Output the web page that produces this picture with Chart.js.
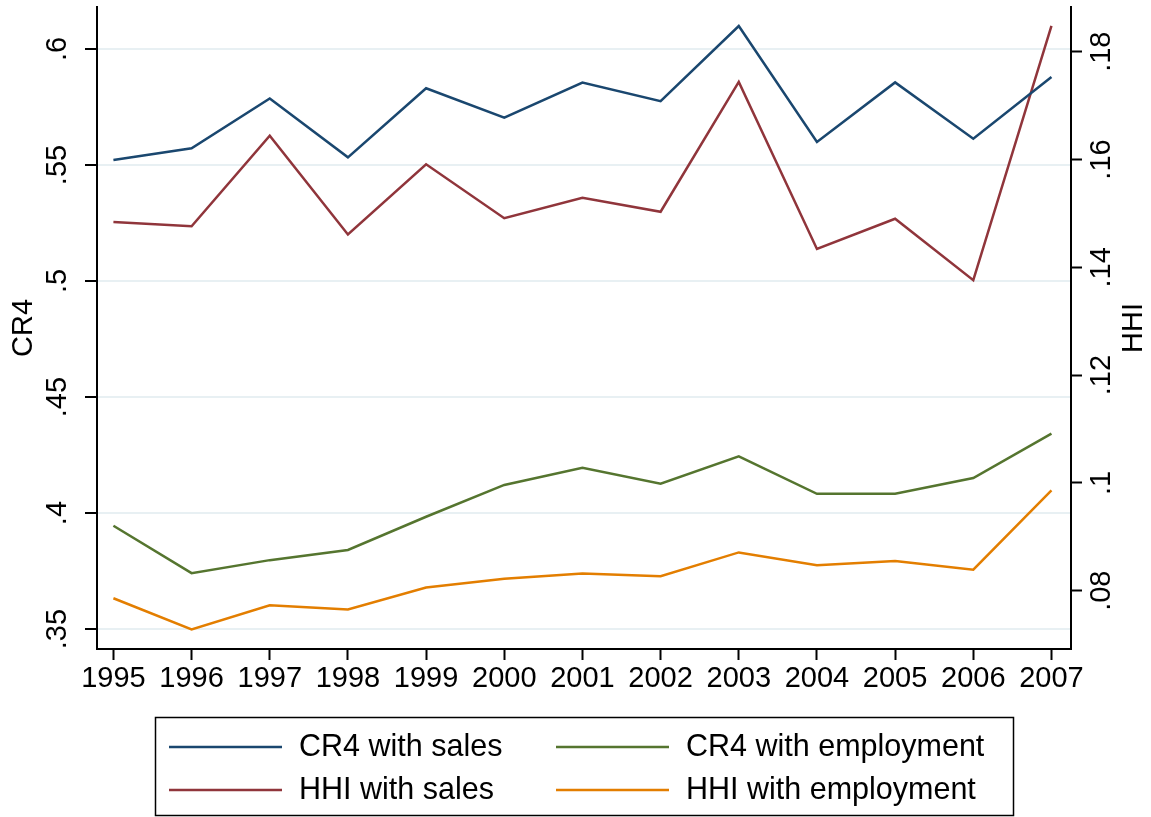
<!DOCTYPE html>
<html>
<head>
<meta charset="utf-8">
<script src="https://cdn.jsdelivr.net/npm/chart.js@4.4.0/dist/chart.umd.min.js"></script>
<style>
  html, body { margin: 0; padding: 0; background: #fff; }
  canvas { display: block; }
</style>
</head>
<body>
<canvas id="c" width="1151" height="817"></canvas>
<script>
// Market concentration by year: CR4 on the left axis, HHI on the right axis
const years = [1995, 1996, 1997, 1998, 1999, 2000, 2001, 2002, 2003, 2004, 2005, 2006, 2007];
const cr4Sales      = [0.5522, 0.5572, 0.5787, 0.5533, 0.5831, 0.5704, 0.5855, 0.5775, 0.6099, 0.5599, 0.5856, 0.5613, 0.5879];
const cr4Employment = [0.3945, 0.3741, 0.3797, 0.3841, 0.3984, 0.4121, 0.4195, 0.4126, 0.4244, 0.4083, 0.4083, 0.4151, 0.4342];
const hhiSales      = [0.1484, 0.1476, 0.1644, 0.1461, 0.1591, 0.1491, 0.1529, 0.1503, 0.1744, 0.1434, 0.1490, 0.1376, 0.1848];
const hhiEmployment = [0.0786, 0.0728, 0.0773, 0.0765, 0.0806, 0.0822, 0.0832, 0.0827, 0.0871, 0.0847, 0.0855, 0.0839, 0.0986];
const cr4Ticks = [0.35, 0.4, 0.45, 0.5, 0.55, 0.6];
const hhiTicks = [0.08, 0.1, 0.12, 0.14, 0.16, 0.18];
const seriesNames = ['CR4 with sales', 'HHI with sales', 'CR4 with employment', 'HHI with employment'];
const seriesColors = ['#1a476f', '#90353b', '#55752f', '#e37e00'];

const FONT = "'Liberation Sans', Arial, Helvetica, sans-serif";
Chart.defaults.font.family = FONT;
Chart.defaults.color = '#000';

// ".35" style labels without the leading zero
const fmt = v => String(Math.round(v * 100) / 100).replace(/^0\./, '.');
const pts = arr => arr.map((v, i) => ({ x: years[i], y: v }));

// fixed axis band sizes, no extra label overhang padding
const fixSize = (w, h) => s => {
  if (w !== null) s.width = w;
  if (h !== null) s.height = h;
  s.paddingTop = 0; s.paddingBottom = 0; s.paddingLeft = 0; s.paddingRight = 0;
};

const series = [
  { values: cr4Sales, axis: 'y' },
  { values: hhiSales, axis: 'y2' },
  { values: cr4Employment, axis: 'y' },
  { values: hhiEmployment, axis: 'y2' }
];

// Right axis title (reads bottom to top) and the boxed two-column legend
const extras = {
  id: 'extras',
  afterDraw(chart) {
    const ctx = chart.ctx;
    const area = chart.chartArea;
    ctx.save();
    ctx.fillStyle = '#000';
    ctx.font = '29px ' + FONT;
    ctx.textAlign = 'center';
    ctx.textBaseline = 'middle';
    ctx.translate(chart.width - 17, (area.top + area.bottom) / 2);
    ctx.rotate(-Math.PI / 2);
    ctx.fillText('HHI', 0, 0);
    ctx.restore();

    const boxW = 858, boxH = 98, boxTop = 717;
    const boxLeft = Math.round((area.left + area.right) / 2 - boxW / 2);
    ctx.save();
    ctx.strokeStyle = '#000';
    ctx.lineWidth = 1.5;
    ctx.strokeRect(boxLeft + 0.5, boxTop + 0.5, boxW, boxH);
    const colX = [boxLeft + 14, boxLeft + 401];
    const rowY = [boxTop + 30, boxTop + 73];
    ctx.font = '30.5px ' + FONT;
    ctx.textAlign = 'left';
    ctx.textBaseline = 'middle';
    chart.data.datasets.forEach((ds, i) => {
      const x = colX[Math.floor(i / 2)];
      const y = rowY[i % 2];
      ctx.strokeStyle = ds.borderColor;
      ctx.lineWidth = 2.5;
      ctx.beginPath();
      ctx.moveTo(x, y);
      ctx.lineTo(x + 113, y);
      ctx.stroke();
      ctx.fillStyle = '#000';
      ctx.fillText(ds.label, x + 130, y + 1);
    });
    ctx.restore();
  }
};

new Chart(document.getElementById('c'), {
  type: 'line',
  data: {
    datasets: series.map((s, i) => ({
      label: seriesNames[i],
      data: pts(s.values),
      yAxisID: s.axis,
      borderColor: seriesColors[i],
      backgroundColor: seriesColors[i],
      borderWidth: 2.5,
      pointRadius: 0,
      tension: 0,
      fill: false
    }))
  },
  options: {
    responsive: false,
    animation: false,
    layout: { padding: { top: 7, bottom: 118, left: 0, right: 0 } },
    plugins: { legend: { display: false }, tooltip: { enabled: false } },
    scales: {
      x: {
        type: 'linear',
        min: 1994.79,
        max: 2007.25,
        afterBuildTicks: s => { s.ticks = years.map(v => ({ value: v })); },
        afterFit: fixSize(null, 50),
        ticks: { callback: v => String(v), font: { size: 29 }, padding: 2, autoSkip: false, maxRotation: 0, minRotation: 0, color: '#000' },
        grid: { drawOnChartArea: false, tickLength: 11, tickColor: '#000', tickWidth: 2 },
        border: { color: '#000', width: 2 }
      },
      y: {
        type: 'linear',
        position: 'left',
        min: 0.3414,
        max: 0.6181,
        afterBuildTicks: s => { s.ticks = cr4Ticks.map(v => ({ value: v })); },
        afterFit: fixSize(97, null),
        ticks: { callback: fmt, minRotation: 90, maxRotation: 90, crossAlign: 'center', padding: 7, font: { size: 29 }, color: '#000' },
        grid: { color: '#e8f0f3', lineWidth: 2, tickLength: 12, tickColor: '#000', tickWidth: 2 },
        border: { color: '#000', width: 2 },
        title: { display: true, text: 'CR4', font: { size: 29 }, color: '#000', padding: { top: 7, bottom: 0 } }
      },
      y2: {
        type: 'linear',
        position: 'right',
        min: 0.06918,
        max: 0.18829,
        afterBuildTicks: s => { s.ticks = hhiTicks.map(v => ({ value: v })); },
        afterFit: fixSize(80, null),
        ticks: { callback: fmt, minRotation: 90, maxRotation: 90, crossAlign: 'center', padding: 0, font: { size: 29 }, color: '#000' },
        grid: { drawOnChartArea: false, tickLength: 11, tickColor: '#000', tickWidth: 2 },
        border: { color: '#000', width: 2 }
      }
    }
  },
  plugins: [extras]
});
</script>
</body>
</html>
